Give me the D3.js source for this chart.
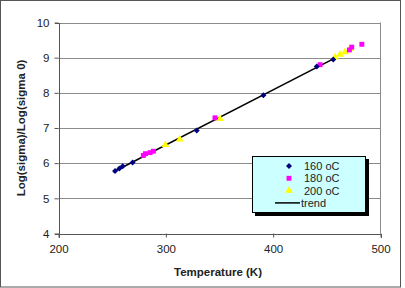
<!DOCTYPE html>
<html>
<head>
<meta charset="utf-8">
<script src="https://cdn.jsdelivr.net/npm/d3@7"></script>
<style>
  body { margin: 0; background: #fff; }
  text { font-family: "Liberation Sans", Arial, sans-serif; }
</style>
</head>
<body>
<div id="chart"></div>
<script>
// data
var t160 = [252.7, 256.7, 259.8, 269, 328.8, 390.9, 440.6, 456];
var s160 = [5.78, 5.85, 5.91, 6.02, 6.93, 7.93, 8.75, 8.95];
var t180 = [279, 281, 285.3, 288.4, 345.8, 443.7, 471, 473.2, 482.6];
var s180 = [6.22, 6.27, 6.3, 6.34, 7.29, 8.8, 9.22, 9.3, 9.38];
var t200 = [299.5, 313, 350.5, 457.7, 462.3, 467, 471.6];
var s200 = [6.52, 6.68, 7.26, 9.01, 9.09, 9.16, 9.25];
var trendT = [251, 457];
var trendS = [5.75, 8.98];
var xTicks = [200, 300, 400, 500];
var yTicks = [4, 5, 6, 7, 8, 9, 10];
var seriesNames = ["160 oC", "180 oC", "200 oC", "trend"];

var width = 405, height = 288;
var plotL = 58.5, plotR = 380.5, plotT = 22.5, plotB = 233.5;

var svg = d3.select("#chart").append("svg")
  .attr("width", width)
  .attr("height", height);

// outer frame
svg.append("rect")
  .attr("x", 0.5).attr("y", 0.5)
  .attr("width", 400).attr("height", 286.5)
  .attr("fill", "#fff")
  .attr("stroke", "#555");

var xScale = d3.scaleLinear().domain([200, 500]).range([plotL, plotR]);
var yScale = d3.scaleLinear().domain([4, 10]).range([plotB, plotT]);

// gridlines
svg.append("g")
  .selectAll("line")
  .data(yTicks.slice(1))
  .enter()
  .append("line")
  .attr("x1", plotL).attr("x2", plotR)
  .attr("y1", function(d) { return Math.round(yScale(d)) + 0.5; })
  .attr("y2", function(d) { return Math.round(yScale(d)) + 0.5; })
  .attr("stroke", "#8c8c8c");

// right border of plot
svg.append("line")
  .attr("x1", plotR).attr("x2", plotR)
  .attr("y1", plotT).attr("y2", plotB)
  .attr("stroke", "#8c8c8c");

var xAxis = d3.axisBottom(xScale).tickValues(xTicks).tickFormat(d3.format("d"))
  .tickSize(4).tickPadding(7);
var yAxis = d3.axisLeft(yScale).tickValues(yTicks).tickFormat(d3.format("d"))
  .tickSize(4).tickPadding(5);

var gx = svg.append("g")
  .attr("transform", "translate(0," + plotB + ")")
  .call(xAxis);
var gy = svg.append("g")
  .attr("transform", "translate(" + plotL + ",0)")
  .call(yAxis);

[gx, gy].forEach(function(g) {
  g.select(".domain").attr("stroke", "#555").attr("shape-rendering", "crispEdges");
  g.selectAll(".tick line").attr("stroke", "#555");
  g.selectAll("text")
    .attr("font-size", 11.5)
    .attr("fill", "#222")
    .style("font-family", "'Liberation Sans', Arial, sans-serif");
});

// axis titles
svg.append("text")
  .attr("x", 218).attr("y", 276)
  .attr("text-anchor", "middle")
  .attr("font-size", 11.5)
  .attr("font-weight", "bold")
  .attr("fill", "#222")
  .text("Temperature (K)");

svg.append("text")
  .attr("transform", "translate(25," + 128 + ")rotate(-90)")
  .attr("text-anchor", "middle")
  .attr("font-size", 11.5)
  .attr("font-weight", "bold")
  .attr("fill", "#222")
  .text("Log(sigma)/Log(sigma 0)");

// trend line
svg.append("line")
  .attr("x1", xScale(trendT[0])).attr("y1", yScale(trendS[0]))
  .attr("x2", xScale(trendT[1])).attr("y2", yScale(trendS[1]))
  .attr("stroke", "#000")
  .attr("stroke-width", 1.5);

// excel style diamond = square turned 45deg
var diamond = d3.symbol().type(d3.symbolSquare).size(18);
var square = d3.symbol().type(d3.symbolSquare).size(24);
var triangle = d3.symbol().type(d3.symbolTriangle).size(26);

function drawSeries(ts, ss, sym, color, rot) {
  svg.append("g")
    .selectAll("path")
    .data(ts)
    .enter()
    .append("path")
    .attr("d", sym)
    .attr("transform", function(d, i) {
      return "translate(" + xScale(d) + "," + yScale(ss[i]) + ")rotate(" + rot + ")";
    })
    .attr("fill", color);
}
drawSeries(t200, s200, triangle, "#ffff00", 0);
drawSeries(t180, s180, square, "#ff00ff", 0);
drawSeries(t160, s160, diamond, "#000080", 45);

// legend
var lg = svg.append("g");
lg.append("rect")
  .attr("x", 255).attr("y", 159)
  .attr("width", 114).attr("height", 57)
  .attr("fill", "#000");
lg.append("rect")
  .attr("x", 252.5).attr("y", 156.5)
  .attr("width", 113).attr("height", 56)
  .attr("fill", "#ccffff")
  .attr("stroke", "#000");

var syms = [diamond, square, triangle];
var cols = ["#000080", "#ff00ff", "#ffff00"];
var rots = [45, 0, 0];
seriesNames.forEach(function(name, i) {
  var yy = 166 + i * 12.3;
  if (i < 3) {
    lg.append("path")
      .attr("d", syms[i])
      .attr("transform", "translate(289," + yy + ")rotate(" + rots[i] + ")")
      .attr("fill", cols[i]);
  } else {
    lg.append("line")
      .attr("x1", 275).attr("x2", 300)
      .attr("y1", yy).attr("y2", yy)
      .attr("stroke", "#000").attr("stroke-width", 1.5);
  }
  lg.append("text")
    .attr("x", i < 3 ? 304 : 301)
    .attr("y", yy + 4)
    .attr("font-size", 11)
    .attr("fill", "#222")
    .text(name);
});
</script>
</body>
</html>
